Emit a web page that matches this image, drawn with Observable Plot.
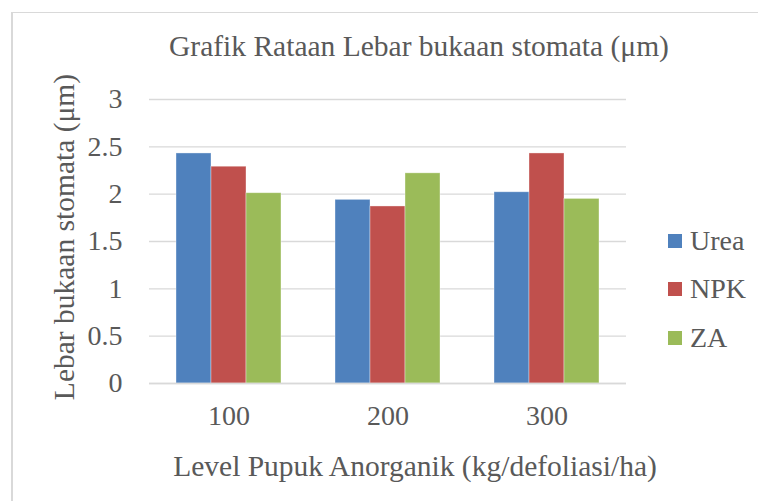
<!DOCTYPE html>
<html>
<head>
<meta charset="utf-8">
<script src="https://cdn.jsdelivr.net/npm/d3@7"></script>
<script src="https://cdn.jsdelivr.net/npm/@observablehq/plot@0.6"></script>
<style>
  html, body { margin: 0; padding: 0; background: #fff; }
  #chart { width: 760px; height: 501px; }
</style>
</head>
<body>
<div id="chart"></div>
<script>
const categories = ["100", "200", "300"];
const series = ["Urea", "NPK", "ZA"];
const urea = [2.43, 1.94, 2.02];
const npk = [2.29, 1.87, 2.43];
const za = [2.01, 2.22, 1.95];
const colors = ["#4f81bd", "#c0504d", "#9bbb59"];
const yTicks = [0, 0.5, 1, 1.5, 2, 2.5, 3];
const title = "Grafik Rataan Lebar bukaan stomata (μm)";
const xTitle = "Level Pupuk Anorganik (kg/defoliasi/ha)";
const yTitle = "Lebar bukaan stomata (μm)";

const valuesBySeries = [urea, npk, za];
const data = [];
categories.forEach((c, i) => {
  series.forEach((s, j) => data.push({category: c, series: s, value: valuesBySeries[j][i]}));
});

const FONT = "\"Liberation Serif\", \"Times New Roman\", serif";
const TEXT = "#595959";
const GRID = "#d9d9d9";
const FS = 28;
const FT = 29.5;

const chart = Plot.plot({
  width: 760,
  height: 501,
  marginLeft: 149,
  marginRight: 134,
  marginTop: 99,
  marginBottom: 118,
  style: {fontFamily: FONT, fontSize: FS + "px", color: TEXT, background: "white", overflow: "visible"},
  fx: {domain: categories, padding: 0, label: null, axis: "bottom", tickSize: 0, tickPadding: 22},
  x: {domain: series, paddingInner: 0, paddingOuter: 0.75, axis: null},
  y: {domain: [0, 3], ticks: yTicks, tickFormat: d => String(d), tickSize: 0, tickPadding: 27, label: null},
  color: {domain: series, range: colors},
  marks: [
    Plot.gridY(yTicks, {stroke: GRID, strokeOpacity: 1, strokeWidth: 1.4}),
    Plot.barY(data, {fx: "category", x: "series", y: "value", fill: "series", stroke: "white", strokeOpacity: 0.45, strokeWidth: 0.8}),
    Plot.ruleY([0], {stroke: GRID, strokeWidth: 1.6})
  ]
});

const svg = d3.select(chart);
// chart area border (top and left)
svg.append("line").attr("x1", 11).attr("x2", 758).attr("y1", 12.5).attr("y2", 12.5)
  .attr("stroke", GRID).attr("stroke-width", 1.2);
svg.append("line").attr("x1", 12).attr("x2", 12).attr("y1", 12).attr("y2", 501)
  .attr("stroke", GRID).attr("stroke-width", 2);

function addText(str, size) {
  return svg.append("text").text(str)
    .style("font-family", FONT).style("font-size", size + "px").attr("fill", TEXT);
}
addText(title, FT).attr("x", 419).attr("y", 56).attr("text-anchor", "middle");
addText(xTitle, FT).attr("x", 415).attr("y", 476).attr("text-anchor", "middle");
addText(yTitle, FT).attr("transform", "translate(74,237) rotate(-90)").attr("text-anchor", "middle");

const legendY = [241, 289, 338];
series.forEach((s, i) => {
  svg.append("rect").attr("x", 668).attr("y", legendY[i] - 7).attr("width", 14).attr("height", 14)
    .attr("fill", colors[i]);
  addText(s, FS).attr("x", 690).attr("y", legendY[i] + 9).attr("text-anchor", "start");
});

document.getElementById("chart").appendChild(chart);
</script>
</body>
</html>
